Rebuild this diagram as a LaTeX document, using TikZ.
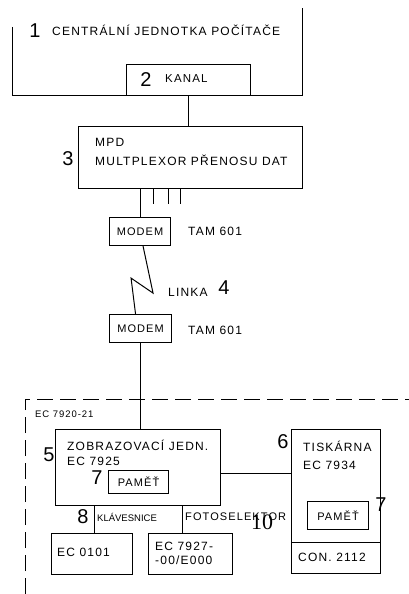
\documentclass[tikz,border=0pt]{standalone}
\usepackage{fontspec}
\setmainfont{Liberation Serif}
\newfontfamily\scanfont[LetterSpace=10]{Liberation Sans}
\newfontfamily\numfont{Liberation Sans}
\usetikzlibrary{positioning,calc}

\begin{document}
\begin{tikzpicture}[
x=1pt, y=-1pt,
box/.style={
draw,
line width=1.1pt,
inner sep=0pt,
anchor=north west
},
txt/.style={
font=\scanfont\fontsize{12}{14}\selectfont,
inner sep=0pt,
anchor=west
},
small/.style={
font=\scanfont\fontsize{11}{13}\selectfont,
inner sep=0pt
},
num/.style={font=\numfont\fontsize{20}{20}\selectfont, inner sep=0pt},
wire/.style={line width=1pt},
zone/.style={line width=1pt, dash pattern=on 16pt off 7pt}
]
\useasboundingbox (0,0) rectangle (409,594);

% Central unit with channel
\node[minimum width=290pt, minimum height=95pt, inner sep=0pt, anchor=north west] (cpu) at (12,0) {};
\draw[wire] ([yshift=-27pt]cpu.north west) -- (cpu.south west) -- (cpu.south east) -- ([yshift=-8pt]cpu.north east);
\node[num] (n1) at (35,31) {1};
\node[txt] (cpulbl) at (52,30) {CENTRÁLNÍ JEDNOTKA POČÍTAČE};

\node[box, minimum width=124pt, minimum height=31pt] (kanal) at (126,64) {};
\node[num] (n2) at (146,80) {2};
\node[small, anchor=west, font=\scanfont\fontsize{11.5}{13}\selectfont] (kanallbl) at (165,79) {KANAL};

% Multiplexer
\node[box, minimum width=224pt, minimum height=62pt] (mpd) at (78,126) {};
\node[txt] (mpdlbl) at (95,142) {MPD};
\node[txt] (mpdname) at (95,160) {MULTPLEXOR PŘENOSU DAT};
\node[num] (n3) at (68,159) {3};

% Modems and line
\node[box, minimum width=61pt, minimum height=28pt, small, anchor=north west] (modemA) at (109,217) {MODEM};
\node[txt] (tamA) at (188,231) {TAM 601};
\node[box, minimum width=62pt, minimum height=28pt, small, anchor=north west] (modemB) at (109,314) {MODEM};
\node[txt] (tamB) at (188,330) {TAM 601};
\node[txt] (linka) at (168,292) {LINKA};
\node[num] (n4) at (224,288) {4};

% Terminal station
\draw[zone] (25,594) -- (25,399) -- (409,399);
\node[small, anchor=west, font=\scanfont\fontsize{9.5}{11}\selectfont] (stanice) at (35,414) {EC 7920-21};

\node[box, minimum width=165pt, minimum height=76pt] (zob) at (55,429) {};
\node[txt] (zoblbl) at (67,445) {ZOBRAZOVACÍ JEDN.};
\node[txt] (zobtyp) at (67,461) {EC 7925};
\node[num] (n5) at (49,455) {5};
\node[num] (n7a) at (97,478) {7};
\node[box, minimum width=60pt, minimum height=23pt, small, anchor=north west] (pametA) at (108,470) {PAMĚŤ};

\node[box, minimum width=89pt, minimum height=113pt] (tisk) at (291,429) {};
\node[box, minimum width=89pt, minimum height=31pt] (con) at (291,542) {};
\node[txt] (conlbl) at (298,557) {CON. 2112};
\node[num] (n6) at (283,442) {6};
\node[txt] (tisklbl) at (303,446) {TISKÁRNA};
\node[txt] (tisktyp) at (303,465) {EC 7934};
\node[box, minimum width=61pt, minimum height=28pt, small, anchor=north west] (pametB) at (307,501) {PAMĚŤ};
\node[num] (n7b) at (381,505) {7};

\node[box, minimum width=81pt, minimum height=41pt] (kbd) at (51,533) {};
\node[txt] (kbdtyp) at (57,552) {EC 0101};
\node[box, minimum width=84pt, minimum height=41pt] (foto) at (148,533) {};
\node[txt, align=left] (fototyp) at (155,553) {EC 7927-\\-00/E000};

\node[num] (n8) at (83,517) {8};
\node[small, anchor=west, font=\numfont\fontsize{9.5}{11}\selectfont] (kbdlbl) at (97,517) {KLÁVESNICE};
\node[small, anchor=west, font=\scanfont\fontsize{11}{13}\selectfont] (fotolbl) at (185,517) {FOTOSELEKTOR};
\node[font=\rmfamily\fontsize{22}{22}\selectfont, inner sep=0pt] (n10) at (262,522) {10};

% Links
\draw[wire] (kanal.south) -- (kanal.south |- mpd.north);
\draw[wire] (modemA.north) -- (modemA.north |- mpd.south);
\foreach \x in {153,168,180}
  \draw[wire] (mpd.south -| \x,0) -- ++(0,15);
\draw[wire] ([xshift=3pt]modemA.south) -- ++(10,47) -- ++(-22,-15) -- ([xshift=-5pt]modemB.north);
\draw[wire] (modemB.south) -- (modemB.south |- zob.north);
\draw[wire] ([yshift=-6pt]zob.east) -- ([yshift=-6pt]zob.east -| tisk.west);
\draw[wire] ([xshift=2.5pt]kbd.north) -- ([xshift=2.5pt]kbd.north |- zob.south);
\draw[wire] ([xshift=-8pt]foto.north) -- ([xshift=-8pt]foto.north |- zob.south);

\end{tikzpicture}
\end{document}
